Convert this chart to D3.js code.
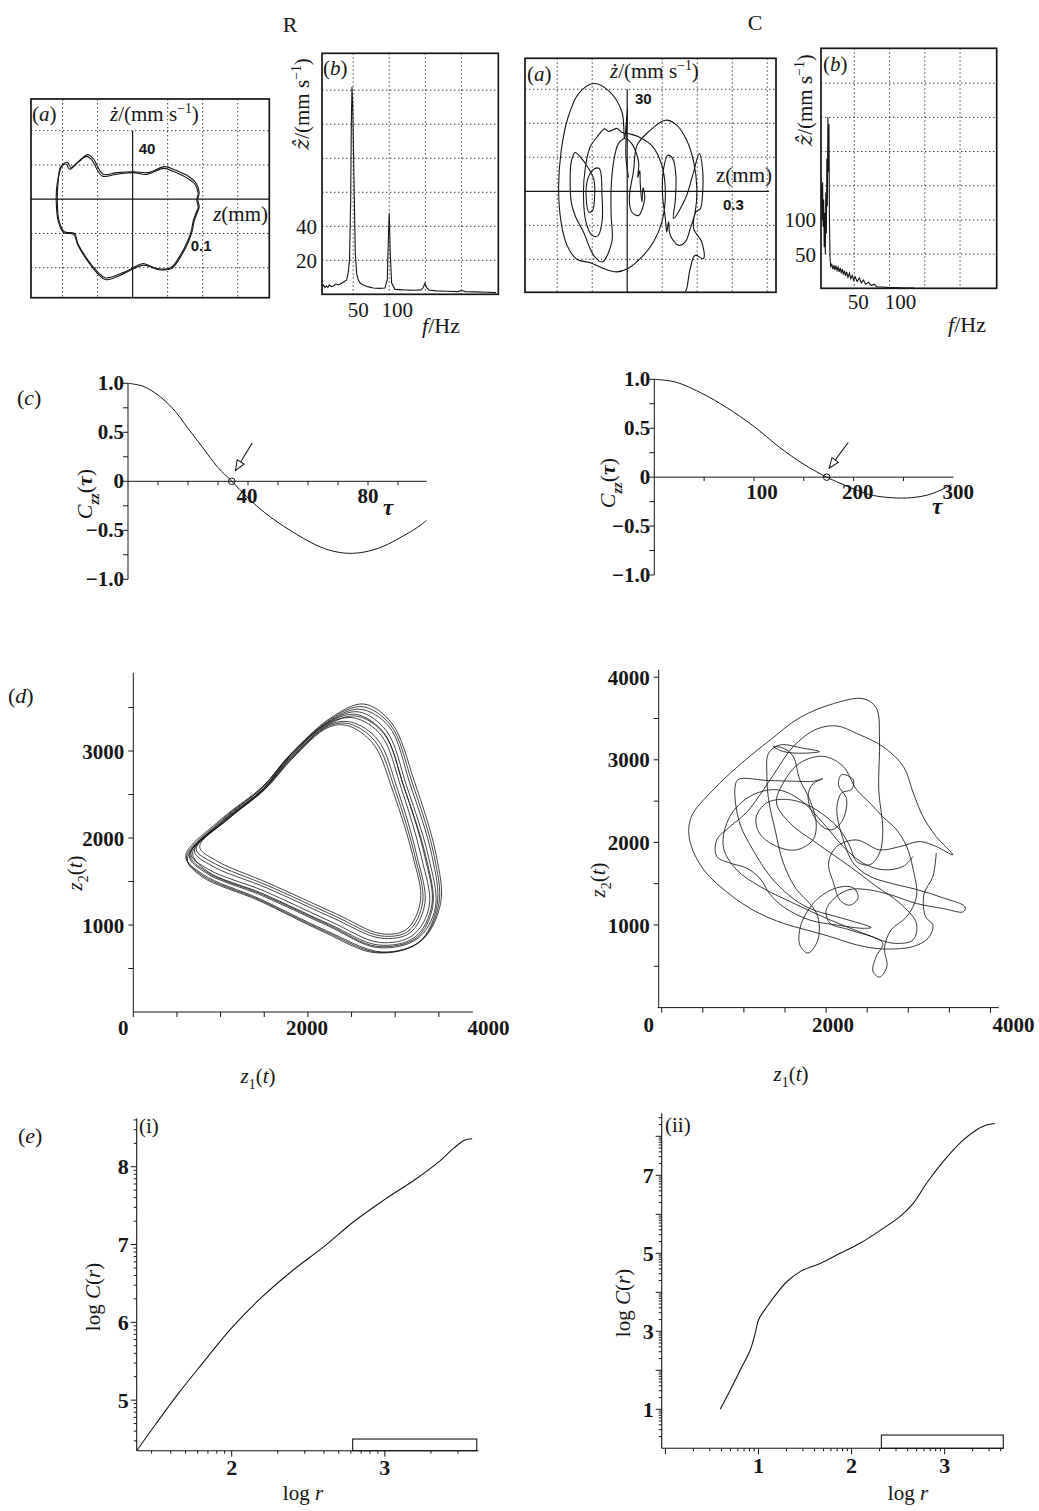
<!DOCTYPE html>
<html><head><meta charset="utf-8">
<script src="https://cdnjs.cloudflare.com/ajax/libs/d3/7.8.5/d3.min.js"></script>
<style>html,body{margin:0;padding:0;background:#fff}svg{display:block}</style>
</head><body>
<svg id="fig" width="1039" height="1511" xmlns="http://www.w3.org/2000/svg"></svg>
<script>
// ======================= DATA =======================
const columnTitles = ["R", "C"];

// (a) phase portraits  [z (mm), ż (mm/s)]
const rPhasePass1 = [[-0.205,38],[-0.19,41],[-0.18,35],[-0.156,43],[-0.131,50],[-0.117,46],[-0.087,27],[-0.048,29],[0.001,31],[0.04,29],[0.089,36],[0.119,32],[0.158,24],[0.177,18],[0.187,7],[0.183,-1],[0.187,-10],[0.18,-17],[0.173,-25],[0.168,-36],[0.158,-48],[0.138,-64],[0.109,-80],[0.07,-81],[0.05,-78],[0.03,-75],[0.011,-78],[-0.018,-84],[-0.077,-92],[-0.097,-86],[-0.126,-72],[-0.156,-52],[-0.166,-40],[-0.195,-38],[-0.21,-25],[-0.215,-1],[-0.213,18]];
const rPhasePass2 = [[-0.200,40],[-0.186,43],[-0.176,37],[-0.152,45],[-0.128,52],[-0.112,47],[-0.084,29],[-0.045,31],[0.004,32],[0.043,31],[0.092,38],[0.122,34],[0.162,26],[0.181,19],[0.19,8],[0.186,0],[0.19,-9],[0.183,-17],[0.176,-25],[0.17,-37],[0.16,-49],[0.14,-65],[0.111,-81],[0.072,-82],[0.052,-79],[0.032,-77],[0.013,-79],[-0.016,-85],[-0.076,-94],[-0.097,-88],[-0.127,-73],[-0.157,-53],[-0.168,-41],[-0.197,-39],[-0.212,-26],[-0.218,-2],[-0.215,19]];
const cPhase = [[0.004,4],[-0.004,10.6],[0.001,24.3],[-0.008,15.5],
 [-0.015,23.3],[-0.051,29.4],[-0.096,31.7],[-0.139,28.7],[-0.170,21.4],[-0.189,11.6],[-0.196,0.8],[-0.189,-9.0],[-0.172,-15.9],[-0.144,-20.0],[-0.106,-21.0],[-0.068,-22.7],[-0.030,-23.7],[0.002,-22.7],[0.042,-19.3],[0.075,-14.9],[0.099,-9.0],[0.109,-1.2],[0.099,7.6],[0.070,13.5],[0.032,16.0],
 [0.010,16.8],[-0.015,17.3],[-0.030,18.5],[-0.053,17.6],[-0.065,18.4],[-0.082,16.5],
 [-0.106,13.0],[-0.120,6.7],[-0.125,-1.2],[-0.118,-9.0],[-0.101,-12.9],[-0.084,-13.1],[-0.072,-9.0],[-0.072,-1.2],[-0.080,6.7],[-0.099,6.2],[-0.115,2.7],[-0.117,-2.2],[-0.110,-6.1],[-0.099,-5.6],[-0.093,-1.2],[-0.096,3.7],[-0.134,10.1],[-0.149,11.4],[-0.160,8.6],[-0.163,2.7],[-0.160,-3.1],[-0.149,-7.1],[-0.125,-12.0],[-0.096,-18.8],[-0.072,-20.8],[-0.044,-14.9],[-0.046,-7.1],[-0.046,0.8],[-0.039,8.6],[-0.025,14.0],[-0.006,15.5],[0.013,14.0],[0.028,10.6],
 [0.033,8],[0.030,4],[0.036,6],[0.037,2.7],[0.042,-3.1],[0.045,1],[0.050,-2],
 [0.032,-7.1],[0.013,-6.1],[0.006,-2.2],[0.018,6],[0.028,13.5],[0.061,17.5],[0.109,20.9],[0.142,19.4],[0.170,15.0],[0.190,8.6],[0.199,0.8],[0.194,-6.1],[0.180,-11.0],[0.166,-14.9],[0.147,-15.9],[0.123,-12.9],[0.118,-9],[0.113,-12],[0.109,-8.0],[0.101,-1.2],[0.104,6.7],[0.116,10.6],[0.130,9.6],[0.139,4.7],[0.137,-3.1],[0.132,-8.0],[0.166,-2.2],[0.187,4.7],[0.206,11.1],[0.215,6.7],[0.215,-1.2],[0.209,-5.1],[0.196,-6.1],[0.190,-11.0],[0.213,-14.9],[0.218,-19.8],[0.194,-18.8],[0.180,-22.7],[0.170,-28.6],[0.166,-29.5]];

// (b) amplitude spectra
const rSpecFreq = [7,9,11,13,15,17,20,23,26,30,34,38,41,43,45,46.6,47.5,48.4,49.5,51.2,53,55,57.2,60,64,70,78,86,94,97.3,99,100,101.4,103.3,108,120,135,144,147,149.4,151.7,155,165,180,195,200,205,220,235,248];
const rSpecAmp  = [4.5,5.5,4,5,4,5.5,4.5,5,6,5.5,6.5,7.5,8.5,12,20,55,100,122,110,67,24,12,8.4,6.5,5.5,4.5,3.7,3.5,3.7,8.4,36,47.6,24,6.6,2.9,2.6,2.4,2.6,4,6.5,4,2.5,2,1.8,1.6,2.2,1.6,1.4,1.2,1];
const cSpecFreq = [2.7,3.5,4.3,5,5.7,6.5,7.2,8,8.8,9.5,10.3,11,11.7,12.5,13.2,14,14.7,15.5,16.5,18,19.5,21,22.5,24,25.5,27,28.5,30,31.5,33,34.5,36,37.5,39,41,43,45,47,49,51,54,57,60,63,66,70,74,78,82,90,100,110,120,135];
const cSpecAmp  = [120,150,100,155,90,130,60,110,50,140,80,190,120,250,170,240,100,45,32,35,28,34,27,33,26,31,24,30,22,28,20,26,18,24,16,22,14,19,12,17,10,15,8,12,6,9,4,6,2,2,1,1,0.5,0.5];
const rSpecXTicks = [50, 100], rSpecYTicks = [20, 40];
const cSpecXTicks = [50, 100], cSpecYTicks = [50, 100];

// (c) autocorrelation functions
const rAcfTau = [0,5,10,15,20,25,30,34.6,40,46,54,63,68,73.5,79,85,91,96,99.5];
const rAcfVal = [1.0,0.97,0.88,0.74,0.54,0.34,0.14,0,-0.17,-0.33,-0.50,-0.655,-0.71,-0.735,-0.72,-0.665,-0.57,-0.48,-0.40];
const cAcfTau = [0,22,49,72,99,126,150,173,186,200,216,233,253,273,286,298];
const cAcfVal = [1,0.97,0.85,0.715,0.526,0.302,0.131,0,-0.06,-0.12,-0.179,-0.206,-0.213,-0.186,-0.138,-0.076];
const rAcfZero = 34.6, cAcfZero = 173;
const rAcfArrow = [[41.4,0.39],[35.8,0.11]], cAcfArrow = [[194.6,0.354],[175.5,0.093]];
const acfYTicks = [-1,-0.5,0,0.5,1], acfYTickLabels = ["\u22121.0","\u22120.5","0","0.5","1.0"];
const rAcfXTicks = [40, 80], cAcfXTicks = [100, 200, 300];

// (d) time-delay embeddings [z1, z2]
const rEmbedLoops = [
 [[600,1790],[1010,2220],[1480,2590],[1800,2960],[2260,3380],[2640,3540],[2960,3320],[3220,2650],[3470,1800],[3520,1250],[3300,820],[2850,690],[2200,940],[1450,1300],[800,1580]],
 [[640,1800],[1040,2210],[1490,2570],[1790,2940],[2250,3340],[2580,3450],[2900,3230],[3130,2600],[3380,1790],[3460,1200],[3250,840],[2800,740],[2230,990],[1470,1340],[830,1600]],
 [[660,1820],[1050,2200],[1490,2560],[1800,2930],[2240,3320],[2530,3380],[2840,3180],[3070,2570],[3300,1780],[3390,1220],[3200,880],[2820,800],[2260,1040],[1500,1390],[860,1640]],
 [[700,1850],[1070,2210],[1500,2560],[1810,2920],[2240,3300],[2500,3330],[2800,3130],[3030,2550],[3250,1790],[3340,1250],[3170,910],[2830,850],[2290,1080],[1520,1430],[900,1680]],
 [[760,1900],[1090,2220],[1510,2560],[1820,2910],[2230,3270],[2460,3290],[2750,3080],[2980,2520],[3200,1800],[3290,1280],[3130,950],[2840,900],[2320,1130],[1550,1480],[950,1740]],
 [[620,1760],[1020,2200],[1480,2580],[1790,2950],[2270,3360],[2600,3480],[2930,3280],[3170,2620],[3420,1800],[3480,1230],[3270,800],[2780,680],[2180,920],[1440,1280],[780,1560]],
 [[680,1830],[1060,2205],[1495,2565],[1805,2925],[2245,3310],[2560,3400],[2870,3200],[3100,2590],[3340,1785],[3420,1230],[3225,860],[2810,770],[2245,1010],[1485,1360],[845,1620]],
 [[610,1775],[1015,2210],[1485,2585],[1795,2955],[2265,3370],[2620,3510],[2945,3300],[3195,2635],[3445,1800],[3500,1240],[3285,810],[2815,685],[2190,930],[1445,1290],[790,1570]],
 [[720,1870],[1080,2215],[1505,2560],[1815,2915],[2235,3285],[2480,3310],[2775,3105],[3005,2535],[3225,1795],[3315,1265],[3150,930],[2835,875],[2305,1105],[1535,1455],[925,1710]],
 [[650,1810],[1045,2205],[1490,2565],[1795,2935],[2245,3330],[2555,3420],[2870,3210],[3100,2585],[3350,1790],[3430,1215],[3240,850],[2790,755],[2240,1000],[1480,1350],[840,1610]]
];
const cEmbedPath = [[3340,1870],[3300,1590],[3190,1370],[3210,1100],[3300,1000],[3240,840],[3060,740],[2690,710],[2370,760],[2050,860],[1760,940],[1480,1020],[1150,1160],[830,1370],[510,1670],[340,2030],[360,2310],[630,2640],[950,2940],[1320,3240],[1680,3510],[2090,3680],[2450,3740],[2610,3630],[2650,3240],[2640,2640],[2690,2150],[2650,1870],[2530,1730],[2370,1770],[2290,1950],[2170,2150],[2000,2310],[1760,2460],[1520,2520],[1280,2480],[1150,2310],[1190,2110],[1400,1950],[1640,1910],[1840,2030],[1880,2230],[1800,2520],[1680,2760],[1600,3040],[1480,3140],[1360,3160],[1480,3100],[1720,3080],[1920,3100],[1720,3140],[1440,3180],[1300,3080],[1280,2800],[1300,2520],[1380,2150],[1480,1750],[1640,1430],[1800,1260],[1900,1100],[1900,820],[1780,660],[1680,760],[1700,1020],[1880,1300],[2130,1450],[2330,1450],[2390,1330],[2290,1240],[2170,1300],[2090,1510],[2030,1750],[2130,1950],[2370,2030],[2650,1910],[2900,1950],[3140,2010],[3340,1950],[3540,1850],[3340,2070],[3180,2310],[3060,2600],[2940,2920],[2690,3160],[2370,3320],[2130,3410],[1880,3370],[1600,3160],[1400,2880],[1240,2640],[1030,2360],[830,2190],[670,2030],[670,1830],[830,1750],[1030,1690],[1190,1570],[1320,1370],[1480,1220],[1800,1060],[2130,1000],[2450,960],[2550,970],[2410,1020],[2130,1100],[1800,1200],[1560,1350],[1320,1590],[1110,1910],[950,2230],[890,2640],[930,2760],[1280,2750],[1640,2740],[1840,2740],[1960,2770],[1840,2710],[1780,2560],[1880,2270],[2050,2150],[2190,2250],[2250,2520],[2150,2700],[2190,2820],[2330,2760],[2310,2640],[2190,2600],[2130,2400],[2210,2030],[2330,1750],[2530,1590],[2770,1510],[3100,1430],[3420,1330],[3690,1220],[3670,1160],[3420,1200],[3100,1260],[2770,1370],[2490,1430],[2290,1430],[2130,1350],[2000,1180],[2050,1020],[2290,940],[2690,780],[2610,620],[2570,440],[2650,370],[2740,500],[2710,720],[2790,940],[2980,1100],[3100,1350],[3060,1670],[2980,1950],[2860,2150],[2690,2310],[2530,2480],[2370,2640],
 [2207,2921],[1964,3042],[1681,2961],[1478,2719],[1397,2477],[1559,2234],[1883,1992],[2288,1709],[2612,1467],[2896,1265],[3098,1022],[3058,820],[2815,780],[2450,901],[2045,1063],[1600,1265],[1195,1467],[911,1669],[749,1951],[830,2315],[1073,2557],[1397,2638],[1681,2517],[1964,2234],[2207,1951],[2450,1749],[2693,1669],[2936,1709],[3058,1830]];
const rEmbedXTicks = [0,2000,4000], rEmbedYTicks = [1000,2000,3000];
const cEmbedXTicks = [0,2000,4000], cEmbedYTicks = [1000,2000,3000,4000];

// (e) correlation integrals  log C(r) vs log r
const rLogR = [1.38,1.5,1.65,1.8,2.0,2.2,2.4,2.6,2.8,3.0,3.2,3.35,3.45,3.52,3.57];
const rLogC = [4.35,4.68,5.08,5.45,5.93,6.33,6.67,6.97,7.30,7.58,7.84,8.06,8.24,8.34,8.36];
const cLogR = [0.589,0.697,0.804,0.911,0.965,1.0,1.09,1.197,1.304,1.447,1.661,1.876,2.09,2.34,2.519,2.662,2.805,2.983,3.162,3.34,3.448,3.537];
const cLogC = [1.0,1.495,2.008,2.521,2.949,3.29,3.63,3.974,4.27,4.53,4.74,5.0,5.256,5.64,5.94,6.28,6.795,7.35,7.82,8.16,8.29,8.33];
const rScalingRange = [2.79, 3.60], rScalingBar = [4.35, 4.50];
const cScalingRange = [2.32, 3.63], cScalingBar = [0, 0.34];
const rCorrXTicks = [2,3], rCorrYTicks = [5,6,7,8];
const cCorrXTicks = [1,2,3], cCorrYTicks = [1,3,5,7];

// ======================= DRAWING =======================
const svg = d3.select("#fig");
const ink = "#161616";
const serif = '"Liberation Serif","DejaVu Serif",serif';
const sans = '"Liberation Sans","DejaVu Sans",sans-serif';
svg.append("rect").attr("width",1039).attr("height",1511).attr("fill","#fff");
const defs = svg.append("defs");
defs.append("marker").attr("id","openTri").attr("viewBox","0 0 12 10").attr("refX",11).attr("refY",5)
  .attr("markerWidth",12).attr("markerHeight",10).attr("markerUnits","userSpaceOnUse").attr("orient","auto")
  .append("path").attr("d","M1,1 L11,5 L1,9 Z").attr("fill","#fff").attr("stroke",ink).attr("stroke-width",1);

function rich(g, x, y, parts, o = {}) {
  const size = o.size || 20;
  const t = g.append("text").attr("x", x).attr("y", y)
    .attr("font-family", o.family || serif).attr("font-size", size)
    .attr("text-anchor", o.anchor || "start").attr("fill", ink);
  if (o.bold) t.attr("font-weight", "bold");
  if (o.rotate) t.attr("transform", `rotate(${o.rotate},${x},${y})`);
  let shift = 0;
  parts.forEach(p => {
    const [s, st] = typeof p === "string" ? [p, ""] : p;
    const tags = st.split(" ");
    const ts = t.append("tspan").text(s);
    let target = 0;
    if (tags.includes("sub")) target = size * 0.3;
    if (tags.includes("sup")) target = -size * 0.4;
    ts.attr("dy", target - shift); shift = target;
    if (tags.includes("sub") || tags.includes("sup")) ts.attr("font-size", size * 0.66);
    if (tags.includes("i")) ts.attr("font-style", "italic");
    if (tags.includes("b")) ts.attr("font-weight", "bold");
    if (tags.includes("dv")) ts.attr("font-family", '"DejaVu Serif",serif');
  });
  return t;
}
function seg(g, x1, y1, x2, y2, w = 1) {
  return g.append("line").attr("x1",x1).attr("y1",y1).attr("x2",x2).attr("y2",y2)
    .attr("stroke", ink).attr("stroke-width", w);
}

// column titles
rich(svg, 290, 32, [columnTitles[0]], {size: 22, anchor: "middle"});
rich(svg, 755, 30, [columnTitles[1]], {size: 22, anchor: "middle"});

// ---------- oscilloscope-style boxed panels ----------
function scopeBox(id, x, y, gx, gy) {
  const g = svg.append("g");
  const [x0, x1] = x.range(), [yb, yt] = y.range();
  g.selectAll("line.gx").data(gx).join("line").attr("class","gx")
    .attr("x1", d => x(d)).attr("x2", d => x(d)).attr("y1", yt).attr("y2", yb)
    .attr("stroke", "#333").attr("stroke-width", 1).attr("stroke-dasharray", "1.4,2.6");
  g.selectAll("line.gy").data(gy).join("line").attr("class","gy")
    .attr("y1", d => y(d)).attr("y2", d => y(d)).attr("x1", x0).attr("x2", x1)
    .attr("stroke", "#333").attr("stroke-width", 1).attr("stroke-dasharray", "1.4,2.6");
  g.append("clipPath").attr("id", id).append("rect")
    .attr("x", x0).attr("y", yt).attr("width", x1 - x0).attr("height", yb - yt);
  g.append("rect").attr("x", x0).attr("y", yt).attr("width", x1 - x0).attr("height", yb - yt)
    .attr("fill", "none").attr("stroke", ink).attr("stroke-width", 1.7);
  return g;
}

// R (a)
{
  const x = d3.scaleLinear().domain([-0.29, 0.39]).range([31, 269.3]);
  const y = d3.scaleLinear().domain([-115, 117]).range([297.7, 99]);
  const g = scopeBox("clipRA", x, y, [-0.2,-0.1,0.1,0.2,0.3], [-80,-40,40,80]);
  seg(g, 31, y(0), 269.3, y(0), 1.2);
  seg(g, x(0), y(80), x(0), 297.7, 1.2);
  const line = d3.line().x(d => x(d[0])).y(d => y(d[1])).curve(d3.curveCatmullRomClosed.alpha(0.5));
  [rPhasePass1, rPhasePass2].forEach(p => g.append("path").attr("d", line(p)).attr("fill","none")
    .attr("stroke", ink).attr("stroke-width", 1.1).attr("clip-path","url(#clipRA)"));
  rich(g, 32, 121, ["(", ["a","i"], ")"], {size: 21});
  rich(g, 110, 121, [["ż","i"], "/(mm s", ["\u22121","sup"], ")"], {size: 21});
  rich(g, x(0) + 6, y(40) - 11, ["40"], {size: 15, family: sans, bold: true});
  rich(g, 268, 221, [["z","i"], "(mm)"], {size: 21, anchor: "end"});
  rich(g, x(0.2) - 12, y(-40) + 18, ["0.1"], {size: 15, family: sans, bold: true});
}
// R (b)
{
  const x = d3.scaleLinear().domain([6.9, 251]).range([322, 498.3]);
  const y = d3.scaleLinear().domain([0, 141.7]).range([294.3, 53.3]);
  const g = scopeBox("clipRB", x, y, [50,100,150,200], [20,40,60,80,100,120]);
  const line = d3.line().x((d,i) => x(rSpecFreq[i])).y(d => y(d));
  g.append("path").attr("d", line(rSpecAmp)).attr("fill","none").attr("stroke", ink)
    .attr("stroke-width", 1.1).attr("clip-path","url(#clipRB)");
  rich(g, 323, 75, ["(", ["b","i"], ")"], {size: 21});
  rich(g, 309, 104, [["\u1E91","i dv"], "/(mm s", ["\u22121","sup"], ")"], {size: 21, anchor: "middle", rotate: -90});
  const xOff = [5, 8];
  rSpecXTicks.forEach((v,i) => rich(g, x(v) + xOff[i], 317, [String(v)], {size: 21, anchor: "middle"}));
  rSpecYTicks.forEach(v => rich(g, 317, y(v) + 7.5, [String(v)], {size: 21, anchor: "end"}));
  rich(g, 422, 333, [["f","i"], "/Hz"], {size: 22});
}
// C (a)
{
  const x = d3.scaleLinear().domain([-0.292, 0.425]).range([525, 776]);
  const y = d3.scaleLinear().domain([-29.7, 39.1]).range([292.3, 58.3]);
  const g = scopeBox("clipCA", x, y, [-0.2,-0.1,0.1,0.2,0.3,0.4], [-20,-10,10,20,30]);
  seg(g, 525, y(0), 769, y(0), 1.2);
  seg(g, x(0), y(30), x(0), 292.3, 1.2);
  const line = d3.line().x(d => x(d[0])).y(d => y(d[1])).curve(d3.curveCatmullRom.alpha(0.5));
  g.append("path").attr("d", line(cPhase)).attr("fill","none").attr("stroke", ink)
    .attr("stroke-width", 1.1).attr("clip-path","url(#clipCA)");
  rich(g, 527, 81, ["(", ["a","i"], ")"], {size: 21});
  rich(g, 610, 78, [["ż","i"], "/(mm s", ["\u22121","sup"], ")"], {size: 21});
  rich(g, 635, 104, ["30"], {size: 15, family: sans, bold: true});
  rich(g, 772, 182, ["z(mm)"], {size: 21, anchor: "end"});
  rich(g, 723, 210, ["0.3"], {size: 15, family: sans, bold: true});
}
// C (b)
{
  const x = d3.scaleLinear().domain([2.7, 252]).range([821, 996.7]);
  const y = d3.scaleLinear().domain([0, 351]).range([288.3, 48.3]);
  const g = scopeBox("clipCB", x, y, [50,100,150,200], [50,100,150,200,250,300]);
  const line = d3.line().x((d,i) => x(cSpecFreq[i])).y(d => y(d));
  g.append("path").attr("d", line(cSpecAmp)).attr("fill","none").attr("stroke", ink)
    .attr("stroke-width", 1.1).attr("clip-path","url(#clipCB)");
  rich(g, 823, 71, ["(", ["b","i"], ")"], {size: 21});
  rich(g, 812, 100, [["\u1E91","i dv"], "/(mm s", ["\u22121","sup"], ")"], {size: 21, anchor: "middle", rotate: -90});
  const xOff = [4, 11];
  cSpecXTicks.forEach((v,i) => rich(g, x(v) + xOff[i], 309, [String(v)], {size: 21, anchor: "middle"}));
  cSpecYTicks.forEach(v => rich(g, 816, y(v) + 7.5, [String(v)], {size: 21, anchor: "end"}));
  rich(g, 948, 332, [["f","i"], "/Hz"], {size: 22});
}

// ---------- (c) autocorrelation ----------
function acfPanel(o) {
  const g = svg.append("g");
  const {x, y} = o;
  seg(g, x(0), y(-1), x(0), y(1), 1);
  seg(g, x(0), y(0), x(o.xEnd), y(0), 1);
  o.minorX.forEach(v => seg(g, x(v), y(0), x(v), y(0) + 4, 1));
  d3.range(-1, 1.01, 0.25).forEach(v => seg(g, x(0) - 5, y(v), x(0), y(v), 1));
  acfYTicks.forEach((v,i) => rich(g, x(0) - 4, y(v) + 7, [acfYTickLabels[i]], {size: 21, bold: true, anchor: "end"}));
  o.labels.forEach((v,i) => rich(g, x(v) + o.labelDx[i], y(0) + 22, [String(v)], {size: 21, bold: true, anchor: "middle"}));
  rich(g, o.tauPos[0], o.tauPos[1], [["τ","i"]], {size: 23, bold: true, anchor: "middle"});
  const line = d3.line().x((d,i) => x(o.tau[i])).y(d => y(d)).curve(d3.curveCatmullRom.alpha(0.5));
  g.append("path").attr("d", line(o.val)).attr("fill","none").attr("stroke", ink).attr("stroke-width", 1);
  g.append("circle").attr("cx", x(o.zero)).attr("cy", y(0)).attr("r", 3.3)
    .attr("fill","none").attr("stroke", ink).attr("stroke-width", 1);
  g.append("line").attr("x1", x(o.arrow[0][0])).attr("y1", y(o.arrow[0][1]))
    .attr("x2", x(o.arrow[1][0])).attr("y2", y(o.arrow[1][1]))
    .attr("stroke", ink).attr("stroke-width", 1.1).attr("marker-end","url(#openTri)");
  rich(g, o.ylab[0], o.ylab[1], [["C","i"], ["zz","i b sub"], "(", ["τ","i b"], ")"], {size: 22, anchor: "middle", rotate: -90});
  return g;
}
{
  const g = acfPanel({
    x: d3.scaleLinear().domain([0,100]).range([128,428]),
    y: d3.scaleLinear().domain([-1,1]).range([579.3,383.3]),
    xEnd: 99.6, minorX: d3.range(10, 100, 10), labels: rAcfXTicks, labelDx: [-1, 0],
    tau: rAcfTau, val: rAcfVal, zero: rAcfZero, arrow: rAcfArrow,
    tauPos: [388, 515], ylab: [92, 494]
  });
  rich(g, 17, 405, ["(", ["c","i"], ")"], {size: 22});
}
{
  acfPanel({
    x: d3.scaleLinear().domain([0,300]).range([654.3,953.3]),
    y: d3.scaleLinear().domain([-1,1]).range([575,379.3]),
    xEnd: 300, minorX: d3.range(50, 300, 50), labels: cAcfXTicks, labelDx: [8, 4, 5],
    tau: cAcfTau, val: cAcfVal, zero: cAcfZero, arrow: cAcfArrow,
    tauPos: [937, 514], ylab: [615, 483]
  });
}

// ---------- (d) embeddings ----------
function embedAxes(o) {
  const g = svg.append("g");
  const {x, y} = o;
  seg(g, o.yAxisX, y(0), o.yAxisX, y(o.yEnd), 1);
  seg(g, x(o.xStart), y(0), x(o.xEnd), y(0), 1);
  d3.range(0, o.xEnd, 500).forEach(v => seg(g, x(v), y(0), x(v), y(0) + 5, 1));
  d3.range(500, o.yEnd, 500).forEach(v => seg(g, o.yAxisX - 5, y(v), o.yAxisX, y(v), 1));
  o.xTicks.forEach((v,i) => rich(g, x(v) + o.xDx[i], o.xLabY, [String(v)], {size: 21, bold: true, anchor: "middle"}));
  o.yTicks.forEach(v => rich(g, o.yAxisX - 9, y(v) + 7.5, [String(v)], {size: 21, bold: true, anchor: "end"}));
  rich(g, o.ylab[0], o.ylab[1], [["z","i"], ["2","sub"], "(", ["t","i"], ")"], {size: 21, anchor: "middle", rotate: -90});
  rich(g, o.xlab[0], o.xlab[1], [["z","i"], ["1","sub"], "(", ["t","i"], ")"], {size: 21, anchor: "middle"});
  return g;
}
{
  const x = d3.scaleLinear().domain([0,4000]).range([133.3,482.5]);
  const y = d3.scaleLinear().domain([0,4000]).range([1012,664]);
  const g = embedAxes({x, y, yAxisX: x(0), xStart: 0, xEnd: 3890, yEnd: 3900,
    xTicks: rEmbedXTicks, xDx: [-10, -1, 6], xLabY: 1035, yTicks: rEmbedYTicks,
    ylab: [82, 873], xlab: [258, 1083]});
  const line = d3.line().x(d => x(d[0])).y(d => y(d[1])).curve(d3.curveCatmullRomClosed.alpha(0.5));
  rEmbedLoops.forEach(l => g.append("path").attr("d", line(l)).attr("fill","none")
    .attr("stroke", ink).attr("stroke-width", 0.8));
  rich(g, 8, 703, ["(", ["d","i"], ")"], {size: 22});
}
{
  const x = d3.scaleLinear().domain([0,4000]).range([661.7,990.5]);
  const y = d3.scaleLinear().domain([0,4000]).range([1007.6,677.2]);
  const g = embedAxes({x, y, yAxisX: x(0) - 3, xStart: -50, xEnd: 4100, yEnd: 4090,
    xTicks: cEmbedXTicks, xDx: [-13, 7, 23], xLabY: 1032, yTicks: cEmbedYTicks,
    ylab: [605, 880], xlab: [791, 1081]});
  const line = d3.line().x(d => x(d[0])).y(d => y(d[1])).curve(d3.curveCatmullRom.alpha(0.5));
  g.append("path").attr("d", line(cEmbedPath)).attr("fill","none").attr("stroke", ink).attr("stroke-width", 0.85);
}

// ---------- (e) correlation integrals ----------
function logMinor(lo, hi) {
  const out = [];
  for (let n = Math.floor(lo) - 1; n <= Math.ceil(hi); n++)
    for (let k = 1; k <= 9; k++) { const v = n + Math.log10(k); if (v > lo + 0.01 && v < hi - 0.01) out.push(v); }
  return out;
}
function corrPanel(o) {
  const g = svg.append("g");
  const {x, y} = o;
  const [xl, xh] = x.domain(), [yl, yh] = y.domain();
  seg(g, x(xl), y(yl), x(xl), y(yh), 1.1);
  seg(g, x(xl), y(yl), x(xh), y(yl), 1.1);
  logMinor(xl, xh).forEach(v => seg(g, x(v), y(yl), x(v), y(yl) + (Number.isInteger(Math.round(v*1000)/1000) ? 6 : 3), 1));
  logMinor(yl, yh).forEach(v => seg(g, x(xl) - (Number.isInteger(Math.round(v*1000)/1000) ? 6 : 3), y(v), x(xl), y(v), 1));
  o.xTicks.forEach(v => rich(g, x(v), o.xLabY, [String(v)], {size: 22, bold: true, anchor: "middle"}));
  o.yTicks.forEach(v => rich(g, x(xl) - 8, y(v) + 7.5, [String(v)], {size: 22, bold: true, anchor: "end"}));
  const line = d3.line().x((d,i) => x(o.lr[i])).y(d => y(d)).curve(d3.curveCatmullRom.alpha(0.5));
  g.append("path").attr("d", line(o.lc)).attr("fill","none").attr("stroke", ink).attr("stroke-width", 1.1);
  g.append("rect").attr("x", x(o.range[0])).attr("y", y(o.bar[1]))
    .attr("width", x(o.range[1]) - x(o.range[0])).attr("height", y(o.bar[0]) - y(o.bar[1]))
    .attr("fill","none").attr("stroke", ink).attr("stroke-width", 1.1);
  rich(g, o.ylab[0], o.ylab[1], ["log ", ["C","i"], "(", ["r","i"], ")"], {size: 21, anchor: "middle", rotate: -90});
  rich(g, o.xlab[0], o.xlab[1], ["log ", ["r","i"]], {size: 21, anchor: "middle"});
  rich(g, o.tag[0], o.tag[1], [o.tag[2]], {size: 21});
  return g;
}
{
  const g = corrPanel({
    x: d3.scaleLinear().domain([1.38,3.61]).range([136.7,478.3]),
    y: d3.scaleLinear().domain([4.35,8.62]).range([1450.7,1118.5]),
    xTicks: rCorrXTicks, yTicks: rCorrYTicks, xLabY: 1475,
    lr: rLogR, lc: rLogC, range: rScalingRange, bar: rScalingBar,
    ylab: [100, 1297], xlab: [303, 1500], tag: [139, 1133, "(i)"]
  });
  rich(g, 18, 1143, ["(", ["e","i"], ")"], {size: 22});
}
{
  corrPanel({
    x: d3.scaleLinear().domain([-0.04,3.63]).range([661.7,1003.3]),
    y: d3.scaleLinear().domain([0,8.59]).range([1448.3,1113.3]),
    xTicks: cCorrXTicks, yTicks: cCorrYTicks, xLabY: 1473,
    lr: cLogR, lc: cLogC, range: cScalingRange, bar: cScalingBar,
    ylab: [630, 1303], xlab: [908, 1500], tag: [665, 1132, "(ii)"]
  });
}
</script>
</body></html>
